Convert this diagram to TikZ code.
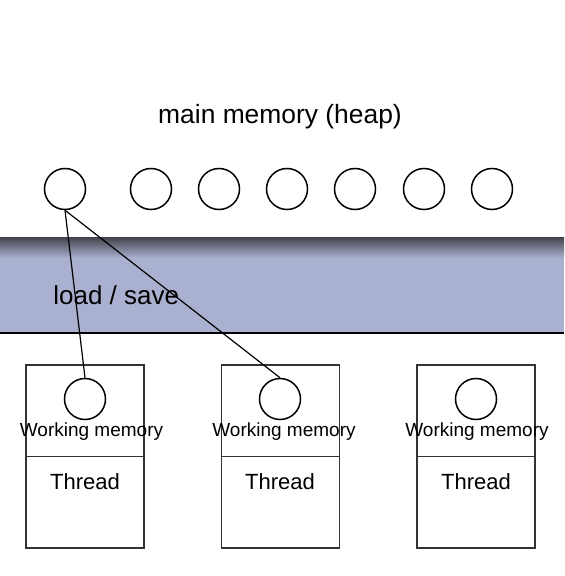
\documentclass[tikz,border=0pt]{standalone}
\usepackage{fontspec}
\setmainfont{Liberation Sans}
\usepackage{tikz}
\usetikzlibrary{arrows}
\usepackage{xcolor}
\definecolor{bandblue}{RGB}{170,177,208}
\definecolor{bandshadow}{RGB}{70,72,80}

\begin{document}
\begin{tikzpicture}[x=0.5pt,y=-0.5pt]
\tikzstyle{cell}=[circle,draw,line width=0.75pt,minimum size=20.5pt,inner sep=0pt]
\tikzstyle{threadbox}=[draw=black!80,line width=0.75pt,minimum width=59pt,minimum height=91.5pt,inner sep=0pt]
\useasboundingbox (0,0) rectangle (564,576);
% heap band
\fill[bandblue] (0,238) rectangle (564,333);
\shade[top color=bandshadow,bottom color=bandblue] (0,238) rectangle (564,258);
\draw[line width=0.6pt] (0,333) -- (564,333);
\node (heap) at (280,117) {\fontsize{13.2}{15}\selectfont main memory (heap)};
\node[anchor=west,inner sep=0pt] (ls) at (53,295) {\fontsize{13}{15}\selectfont load / save};
% heap cells
\node[cell] (h1) at (65,189) {};
\foreach \n/\x in {2/151,3/219,4/287,5/355,6/424,7/492}
  \node[cell] (h\n) at (\x,189) {};
% threads
\foreach \n/\x/\c/\w in {1/85/85/91.5,2/280.5/280/284,3/476/476/477} {
  \node[threadbox] (t\n) at (\x,456.5) {};
  \draw[draw=black!80,line width=0.75pt] (t\n.west) -- (t\n.east);
  \node[cell] (w\n) at (\c,399) {};
  \node (wm\n) at (\w,432) {\fontsize{9.5}{11}\selectfont Working memory};
  \node (th\n) at (\c,482) {\fontsize{11}{13}\selectfont Thread};
}
\draw[line width=0.6pt] (h1.south) -- (w1.north);
\draw[line width=0.6pt] (h1.south) -- (w2.north);
\end{tikzpicture}
\end{document}
